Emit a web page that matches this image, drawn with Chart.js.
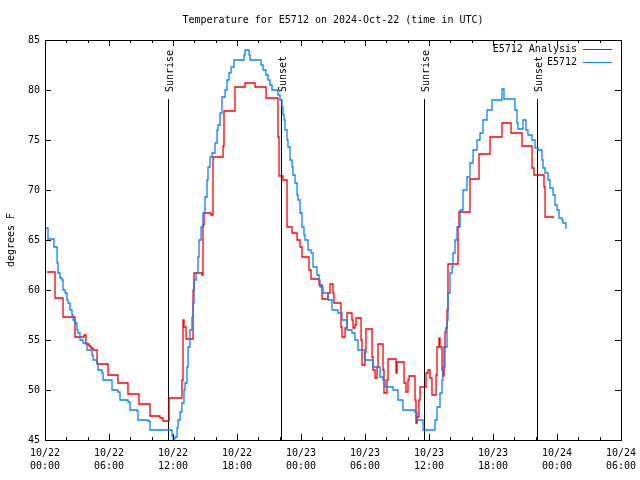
<!DOCTYPE html>
<html>
<head>
<meta charset="utf-8">
<script src="https://cdn.jsdelivr.net/npm/chart.js@4/dist/chart.umd.min.js"></script>
<style>
  body { margin: 0; background: #fff; }
  #wrap { width: 640px; height: 480px; }
</style>
</head>
<body>
<div id="wrap"><canvas id="tempChart" width="640" height="480"></canvas></div>
<script>
// hours since 10/22 00:00 UTC
const obsHours = [0.09, 0.28, 0.84, 1.13, 1.22, 1.41, 1.59, 1.69, 1.88, 2.06, 2.16, 2.34, 2.53, 2.63, 2.81, 3.00, 3.09, 3.28, 3.56, 3.94,
    4.41, 4.50, 4.88, 4.97, 5.34, 5.44, 6.28, 6.84, 7.03, 7.78, 7.97, 8.63, 8.72, 9.66, 9.84,
    11.91, 12.00, 12.19, 12.38, 12.47, 12.66, 12.84, 13.03, 13.13, 13.31, 13.41, 13.59, 13.78, 13.88, 13.97, 14.16, 14.34, 14.44,
    14.63, 14.81, 15.00, 15.19, 15.28, 15.47, 15.66, 15.94, 16.13, 16.22, 16.41, 16.59, 16.88, 17.06, 17.25, 17.44, 17.72,
    18.66, 18.75, 19.13, 19.22, 20.25, 20.44, 20.72, 20.91, 21.09, 21.28, 21.84, 22.03, 22.22, 22.31, 22.41, 22.50, 22.69,
    22.78, 22.97, 23.16, 23.25, 23.44, 23.63, 23.72, 23.91, 24.09, 24.28, 24.38, 24.66, 24.94, 25.13, 25.50, 25.69, 25.78,
    26.06, 26.53, 26.91, 27.47, 27.84, 28.31, 28.78, 29.06, 29.34, 30.00, 30.75, 31.41, 31.69, 31.88, 32.63, 33.09, 33.56,
    34.69, 34.88, 35.44, 36.56, 36.75, 37.03, 37.22, 37.31, 37.50, 37.69, 37.78, 37.97, 38.16, 38.25, 38.44, 38.63, 38.91,
    39.19, 39.56, 39.84, 40.13, 40.50, 40.78, 41.06, 41.44, 41.91, 42.84, 43.03, 44.06, 44.25, 44.34, 44.81, 45.09, 45.28,
    45.66, 45.94, 46.22, 46.59, 46.69, 46.88, 47.16, 47.34, 47.63, 47.81, 48.00, 48.19, 48.47, 48.56, 48.84];
const obsTemps = [66.2, 65.1, 64.3, 62.7, 61.7, 61.2, 61.0, 60.0, 59.7, 59.0, 58.7, 58.0, 57.5, 57.0, 56.7, 56.0, 55.7, 55.0, 54.7, 54.0,
    53.5, 53.0, 52.7, 52.0, 51.7, 51.0, 50.0, 49.8, 49.0, 48.8, 48.0, 47.9, 47.0, 46.9, 46.0,
    45.4, 45.1, 45.3, 46.2, 47.0, 47.8, 48.7, 50.0, 50.7, 52.3, 54.3, 56.0, 57.3, 58.7, 61.0, 61.7, 63.3, 65.0,
    66.3, 67.7, 69.3, 71.0, 72.3, 73.3, 73.7, 74.7, 76.0, 76.5, 77.7, 79.3, 80.0, 81.0, 81.7, 82.3, 83.0,
    83.5, 84.0, 83.5, 83.0, 82.5, 82.0, 81.5, 81.0, 80.5, 80.0, 79.5, 79.0, 78.3, 77.5, 77.0, 76.0, 75.0,
    74.3, 73.0, 72.3, 71.5, 70.7, 69.5, 69.0, 67.7, 66.3, 65.5, 65.0, 64.0, 63.7, 62.3, 61.5, 61.0, 60.3,
    59.7, 59.0, 58.0, 57.7, 57.0, 56.0, 55.7, 55.0, 54.0, 53.0, 52.3, 51.3, 51.0, 50.3, 50.0, 49.0, 48.0,
    47.8, 47.0, 46.0, 47.0, 48.3, 49.7, 51.0, 52.3, 54.3, 57.0, 59.7, 61.7, 62.3, 63.7, 65.0, 66.3, 68.0,
    70.0, 71.3, 72.7, 74.0, 75.0, 75.7, 77.0, 78.0, 79.0, 80.1, 79.1, 78.0, 76.7, 76.1, 77.0, 76.0, 75.5,
    75.0, 74.2, 74.0, 73.0, 72.2, 71.7, 71.0, 70.2, 69.5, 68.5, 68.0, 67.2, 67.0, 66.7, 66.1];

const anaHours = [0.19, 0.94, 1.69, 2.81, 3.66, 3.84, 4.13, 4.31, 4.50, 4.88, 5.91, 6.84, 7.78, 8.81, 9.84, 10.78, 11.06, 11.63,
    12.84, 12.94, 13.03, 13.22, 13.88, 13.97, 14.72, 14.81, 14.91, 15.56, 15.75, 16.69, 16.78, 17.81, 18.75, 19.69, 20.72,
    21.84, 21.94, 22.31, 22.69, 23.16, 23.63, 23.91, 24.09, 24.75, 24.94, 25.69, 25.97, 26.53, 26.72, 27.00, 27.09, 27.75,
    27.84, 28.13, 28.31, 28.78, 28.88, 29.06, 29.16, 29.63, 29.72, 30.00, 30.09, 30.66, 30.75, 30.94, 31.13, 31.22, 31.69,
    31.78, 32.06, 32.16, 32.91, 33.00, 33.66, 33.84, 34.03, 34.13, 34.69, 34.78, 34.88, 35.06, 35.16, 35.72, 35.91, 36.09,
    36.28, 36.66, 36.75, 36.94, 37.03, 37.22, 37.31, 37.41, 37.50, 37.59, 37.69, 37.78, 38.72, 38.81, 39.84, 40.69, 41.72,
    42.84, 43.69, 44.72, 45.66, 45.84, 46.78, 46.88, 47.63];
const anaTemps = [61.8, 59.2, 57.3, 55.3, 55.5, 54.6, 54.4, 54.2, 54.0, 52.6, 51.5, 50.7, 49.6, 48.6, 47.4, 47.2, 46.9, 49.2,
    51.0, 57.0, 56.3, 55.1, 60.0, 61.7, 61.5, 66.5, 67.7, 67.5, 73.3, 74.4, 77.9, 80.3, 80.7, 80.3, 79.2,
    75.3, 71.4, 71.0, 66.3, 65.7, 65.0, 64.3, 63.3, 62.0, 61.1, 60.5, 59.1, 59.7, 60.6, 59.7, 58.7, 56.3,
    55.3, 56.2, 57.7, 57.0, 56.2, 56.5, 57.2, 55.0, 52.5, 53.8, 56.1, 53.3, 52.0, 51.2, 52.3, 54.6, 52.0,
    49.7, 51.0, 53.1, 51.7, 52.8, 50.7, 49.8, 51.0, 51.4, 49.0, 46.7, 47.3, 49.0, 50.3, 51.7, 52.0, 51.2,
    49.5, 51.5, 54.3, 55.2, 54.3, 52.0, 51.4, 54.3, 55.8, 56.2, 58.0, 62.6, 66.3, 67.8, 71.1, 73.6, 75.3,
    76.7, 75.7, 74.4, 72.2, 71.5, 70.3, 67.3, 67.2];

// sunrise / sunset marks
const sunHours = [11.53, 22.13, 35.53, 46.13];
const sunLabels = ['Sunrise', 'Sunset', 'Sunrise', 'Sunset'];

const FONT = '10px "DejaVu Sans Mono"';

function toPoints(xs, ys) {
    return xs.map((x, i) => ({ x: x, y: ys[i] }));
}

const gnuplotFrame = {
    id: 'gnuplotFrame',
    beforeDatasetsDraw(chart) {
        const ctx = chart.ctx;
        const xs = chart.scales.x;
        const ys = chart.scales.y;
        const area = chart.chartArea;
        ctx.save();
        ctx.strokeStyle = '#000';
        ctx.fillStyle = '#000';
        ctx.lineWidth = 1;
        ctx.font = FONT;
        sunHours.forEach((h, i) => {
            const px = Math.round(xs.getPixelForValue(h)) + 0.5;
            ctx.beginPath();
            ctx.moveTo(px, ys.getPixelForValue(79.1));
            ctx.lineTo(px, area.bottom);
            ctx.stroke();
            ctx.save();
            ctx.translate(px + 2, ys.getPixelForValue(79.8));
            ctx.rotate(-Math.PI / 2);
            ctx.textAlign = 'left';
            ctx.textBaseline = 'middle';
            ctx.fillText(sunLabels[i], 0, 0);
            ctx.restore();
        });
        ctx.restore();
    },
    afterDraw(chart) {
        const ctx = chart.ctx;
        const xs = chart.scales.x;
        const ys = chart.scales.y;
        const a = chart.chartArea;
        ctx.save();
        ctx.strokeStyle = '#000';
        ctx.lineWidth = 1;
        ctx.strokeRect(a.left + 0.5, a.top + 0.5, a.right - a.left, a.bottom - a.top);

        // inward ticks
        ctx.beginPath();
        for (let h = 0; h <= 54; h += 2) {
            const px = Math.round(xs.getPixelForValue(h)) + 0.5;
            const len = h % 6 === 0 ? 6 : 3;
            ctx.moveTo(px, a.bottom);
            ctx.lineTo(px, a.bottom - len);
            ctx.moveTo(px, a.top);
            ctx.lineTo(px, a.top + len);
        }
        for (let v = 45; v <= 85; v += 5) {
            const py = Math.round(ys.getPixelForValue(v)) + 0.5;
            ctx.moveTo(a.left, py);
            ctx.lineTo(a.left + 6, py);
            ctx.moveTo(a.right, py);
            ctx.lineTo(a.right - 6, py);
        }
        ctx.stroke();

        // title and axis title
        ctx.fillStyle = '#000';
        ctx.font = FONT;
        ctx.textAlign = 'center';
        ctx.textBaseline = 'middle';
        ctx.fillText('Temperature for E5712 on 2024-Oct-22 (time in UTC)', (a.left + a.right) / 2, 20);
        ctx.save();
        ctx.translate(11, (a.top + a.bottom) / 2);
        ctx.rotate(-Math.PI / 2);
        ctx.fillText('degrees F', 0, 0);
        ctx.restore();

        // legend, text right-aligned with sample on the right
        ctx.textAlign = 'right';
        chart.data.datasets.forEach((ds, i) => {
            const y = a.top + 9 + i * 13;
            ctx.fillStyle = '#000';
            ctx.fillText(ds.label, a.right - 44, y);
            ctx.strokeStyle = ds.borderColor;
            ctx.lineWidth = 1;
            ctx.beginPath();
            ctx.moveTo(a.right - 38, y + 0.5);
            ctx.lineTo(a.right - 9, y + 0.5);
            ctx.stroke();
        });
        ctx.restore();
    }
};

const ctx = document.getElementById('tempChart').getContext('2d');
Chart.defaults.font.family = '"DejaVu Sans Mono"';
Chart.defaults.font.size = 10;
Chart.defaults.color = '#000';

new Chart(ctx, {
    type: 'line',
    data: {
        datasets: [
            {
                label: 'E5712 Analysis',
                data: toPoints(anaHours, anaTemps),
                borderColor: '#ff0000',
                borderWidth: 1.3,
                pointRadius: 0,
                stepped: true,
                order: 1
            },
            {
                label: 'E5712',
                data: toPoints(obsHours, obsTemps),
                borderColor: '#0a84ff',
                borderWidth: 1.3,
                pointRadius: 0,
                stepped: true,
                order: 0
            }
        ]
    },
    options: {
        responsive: false,
        animation: false,
        events: [],
        layout: { padding: { left: 0, right: 19, top: 40, bottom: 0 } },
        plugins: {
            legend: { display: false },
            tooltip: { enabled: false }
        },
        scales: {
            x: {
                type: 'linear',
                min: 0,
                max: 54,
                grid: { display: false, drawTicks: false },
                border: { display: false },
                afterFit: (scale) => {
                    scale.height = 40;
                    scale.paddingLeft = 0;
                    scale.paddingRight = 0;
                },
                ticks: {
                    stepSize: 6,
                    maxRotation: 0,
                    autoSkip: false,
                    padding: 7,
                    font: { lineHeight: 1.3 },
                    callback: function(value) {
                        const day = 22 + Math.floor(value / 24);
                        const hh = String(value % 24).padStart(2, '0');
                        return ['10/' + day, hh + ':00'];
                    }
                }
            },
            y: {
                min: 45,
                max: 85,
                grid: { display: false, drawTicks: false },
                border: { display: false },
                afterFit: (scale) => {
                    scale.width = 45;
                    scale.paddingTop = 0;
                    scale.paddingBottom = 0;
                },
                ticks: { stepSize: 5, padding: 5 }
            }
        }
    },
    plugins: [gnuplotFrame]
});
</script>
</body>
</html>
